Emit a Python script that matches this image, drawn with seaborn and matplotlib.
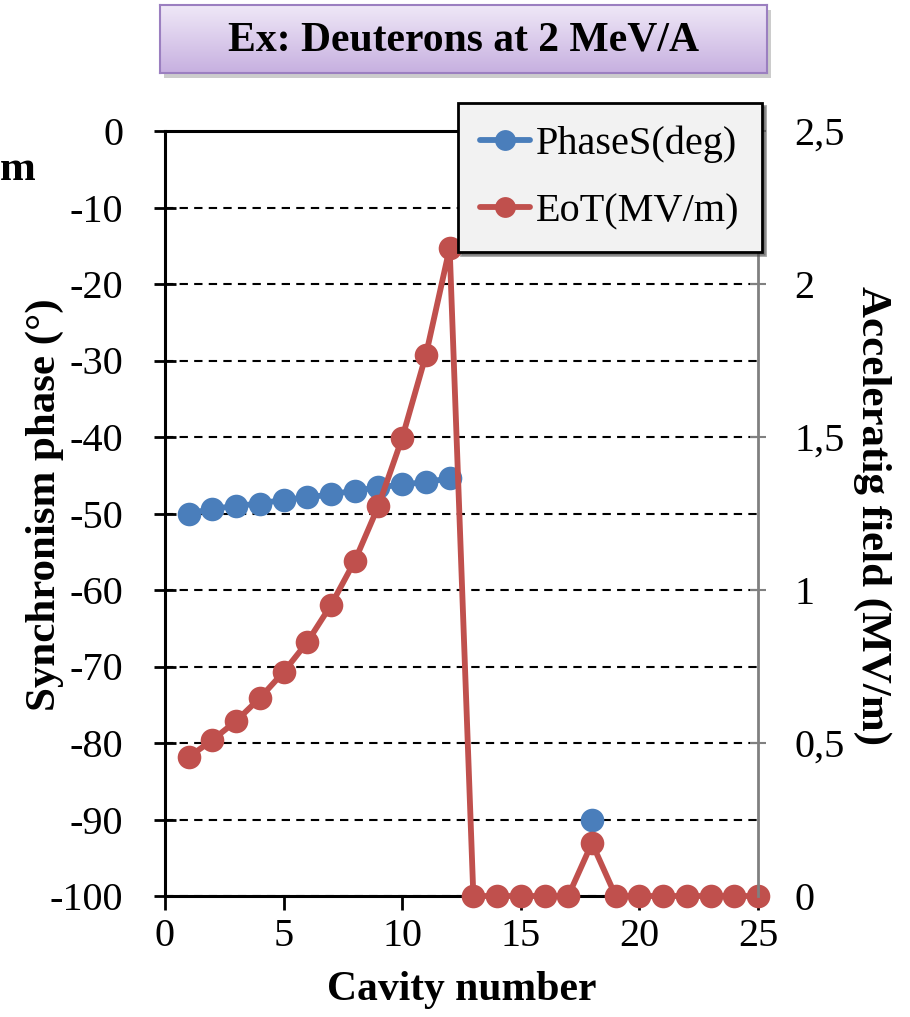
import numpy as np
import pandas as pd
import matplotlib
matplotlib.use("Agg")
import matplotlib.pyplot as plt
import seaborn as sns
from matplotlib.lines import Line2D
from matplotlib.patches import Rectangle
from matplotlib.colors import LinearSegmentedColormap

# data
cavity = list(range(1, 26))
phase_deg = [-50.0, -49.4, -49.0, -48.7, -48.2, -47.9, -47.5, -47.0, -46.6, -46.2, -45.9, -45.4,
             np.nan, np.nan, np.nan, np.nan, np.nan, -90.0,
             np.nan, np.nan, np.nan, np.nan, np.nan, np.nan, np.nan]
eot_mvm = [0.454, 0.51, 0.572, 0.647, 0.732, 0.83, 0.951, 1.095, 1.275, 1.497, 1.768, 2.118,
           0, 0, 0, 0, 0, 0.173, 0, 0, 0, 0, 0, 0, 0]
phase_ticks = list(range(-100, 1, 10))
field_ticks = [0, 0.5, 1, 1.5, 2, 2.5]
field_labels = ["0", "0,5", "1", "1,5", "2", "2,5"]
x_ticks = [0, 5, 10, 15, 20, 25]
series_names = ["PhaseS(deg)", "EoT(MV/m)"]
title = "Ex: Deuterons at 2 MeV/A"

blue = "#4a7ebb"
red = "#c0504d"

sns.set_style("white")
plt.rcParams["font.family"] = ["Liberation Serif", "DejaVu Serif"]
plt.rcParams["axes.unicode_minus"] = False
plt.rcParams["text.color"] = "black"
plt.rcParams["axes.labelcolor"] = "black"
plt.rcParams["xtick.color"] = "black"
plt.rcParams["ytick.color"] = "black"

df = pd.DataFrame({"cavity": cavity, "phase": phase_deg, "eot": eot_mvm})
# break the phase line where values are missing
df["seg"] = df["phase"].isna().cumsum()

fig = plt.figure(figsize=(9.1, 10.17), dpi=100)
ax = fig.add_axes([165 / 910, 1 - 896 / 1017, 593 / 910, 765 / 1017])
ax2 = ax.twinx()

line_kw = dict(marker="o", markersize=17, linewidth=4.2, markeredgewidth=0, clip_on=False)
sns.lineplot(data=df.dropna(subset=["phase"]), x="cavity", y="phase", units="seg",
             estimator=None, color=blue, ax=ax, **line_kw)
sns.lineplot(data=df, x="cavity", y="eot", color=red, ax=ax2, **line_kw)

ax.set_xlim(0, 25)
ax.set_ylim(-100, 0)
ax2.set_ylim(0, 2.5)
ax.set_xticks(x_ticks)
ax.set_yticks(phase_ticks)
ax2.set_yticks(field_ticks)
ax2.set_yticklabels(field_labels)

ax.grid(axis="y", linestyle=(0, (4, 3)), color="black", linewidth=1.5)
ax.grid(axis="x", visible=False)

for s in ["left", "bottom", "top"]:
    ax.spines[s].set_color("black")
    ax.spines[s].set_linewidth(2.2)
ax.spines["right"].set_visible(False)
for s in ["left", "bottom", "top"]:
    ax2.spines[s].set_visible(False)
ax2.spines["right"].set_color("#808080")
ax2.spines["right"].set_linewidth(2)

ax.tick_params(axis="y", direction="inout", length=16, width=2, labelsize=29, pad=22,
               left=True, labelcolor="black")
ax.tick_params(axis="x", direction="out", length=10, width=2, labelsize=29, pad=6,
               bottom=True, labelcolor="black")
ax2.tick_params(axis="y", direction="inout", length=12, width=1.5, color="#808080",
                labelsize=29, pad=20, right=True, labelcolor="black")

ax.set_xlabel("Cavity number", fontsize=30, fontweight="bold", color="black")
ax.set_ylabel("Synchronism phase (°)", fontsize=31, fontweight="bold", color="black")
ax2.set_ylabel("Acceleratig field (MV/m)", fontsize=31, fontweight="bold", rotation=-90,
               color="black")
ax.xaxis.set_label_coords(0.5, -0.098)
ax.yaxis.set_label_coords(-0.17, 0.511)
ax2.yaxis.set_label_coords(1.225, 0.498)

handles = [Line2D([], [], color=blue, marker="o", markersize=15, linewidth=4.2, markeredgewidth=0),
           Line2D([], [], color=red, marker="o", markersize=15, linewidth=4.2, markeredgewidth=0)]
leg = fig.legend(handles, series_names, loc="upper right",
                 bbox_to_anchor=(762 / 910, 1 - 103 / 1017), fontsize=29,
                 frameon=True, fancybox=False, shadow=True, facecolor="#f2f2f2",
                 edgecolor="black", framealpha=1, handlelength=1.25, handletextpad=0.15,
                 labelspacing=0.75, borderpad=0.55, borderaxespad=0)
leg.get_frame().set_linewidth(2)
for t in leg.get_texts():
    t.set_color("black")

# title box with gradient and shadow
bx, by, bw, bh = 160 / 910, 1 - 73 / 1017, 607 / 910, 68 / 1017
fig.patches.append(Rectangle((bx + 4 / 910, by - 5 / 1017), bw, bh, transform=fig.transFigure,
                             facecolor="#aaaaaa", alpha=0.6, edgecolor="none", zorder=-5))
tax = fig.add_axes([bx, by, bw, bh])
tax.set_zorder(2)
cmap = LinearSegmentedColormap.from_list("purp", ["#efe8f7", "#c7b0e0"])
tax.imshow(np.linspace(0, 1, 100).reshape(-1, 1), aspect="auto", cmap=cmap,
           extent=[0, 1, 0, 1], origin="upper")
tax.set_xticks([])
tax.set_yticks([])
for s in tax.spines.values():
    s.set_color("#9b7fc0")
    s.set_linewidth(1.5)
tax.text(0.5, 0.48, title, ha="center", va="center", fontsize=30, fontweight="bold",
         color="black", transform=tax.transAxes)

# clipped text at the left edge of the original slide
fig.text(0.0, 1 - 180 / 1017, "m", ha="left", va="baseline", fontsize=31, fontweight="bold",
         color="black")

fig.savefig("out.png", dpi=100)
